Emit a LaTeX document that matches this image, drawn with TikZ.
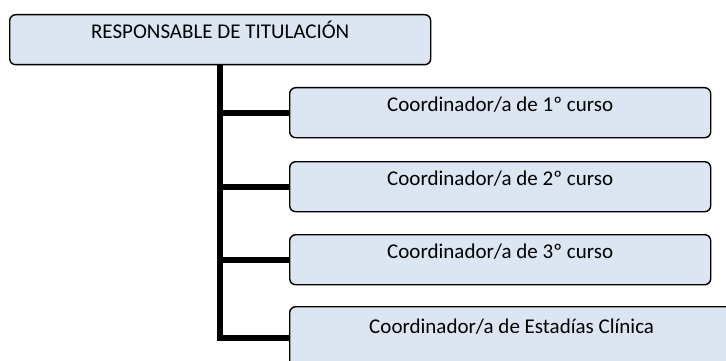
\documentclass[tikz,border=0pt]{standalone}
\usepackage{fontspec}
\setmainfont{Carlito}
\definecolor{boxfill}{RGB}{220,230,242}
\begin{document}
\begin{tikzpicture}[x=1pt,y=-1pt,
  box/.style={draw=black,line width=1.4pt,fill=boxfill,rounded corners=6pt,
    anchor=north west,inner xsep=0pt,inner ysep=0pt,minimum width=421pt,
    text height=24pt,text depth=26pt,font=\fontsize{21}{25}\selectfont},
  conn/.style={draw=black,line width=6pt,line join=miter}]
\path[use as bounding box,clip] (0,0) rectangle (726,361);
\node[box] (top) at (9,14) {RESPONSABLE DE TITULACIÓN};
\node[box] (b1) at (289,87) {Coordinador/a de 1º curso};
\node[box] (b2) at (289,161) {Coordinador/a de 2º curso};
\node[box] (b3) at (289,234) {Coordinador/a de 3º curso};
\node[box,minimum width=450pt,text height=27pt,text depth=35pt] (b4) at (289,306) {\hspace*{-6pt}Coordinador/a de Estadías Clínica};
\draw[conn] (top.south) |- (b4.west);
\draw[conn] (top.south |- b1.west) -- (b1.west);
\draw[conn] (top.south |- b2.west) -- (b2.west);
\draw[conn] (top.south |- b3.west) -- (b3.west);
\end{tikzpicture}
\end{document}
